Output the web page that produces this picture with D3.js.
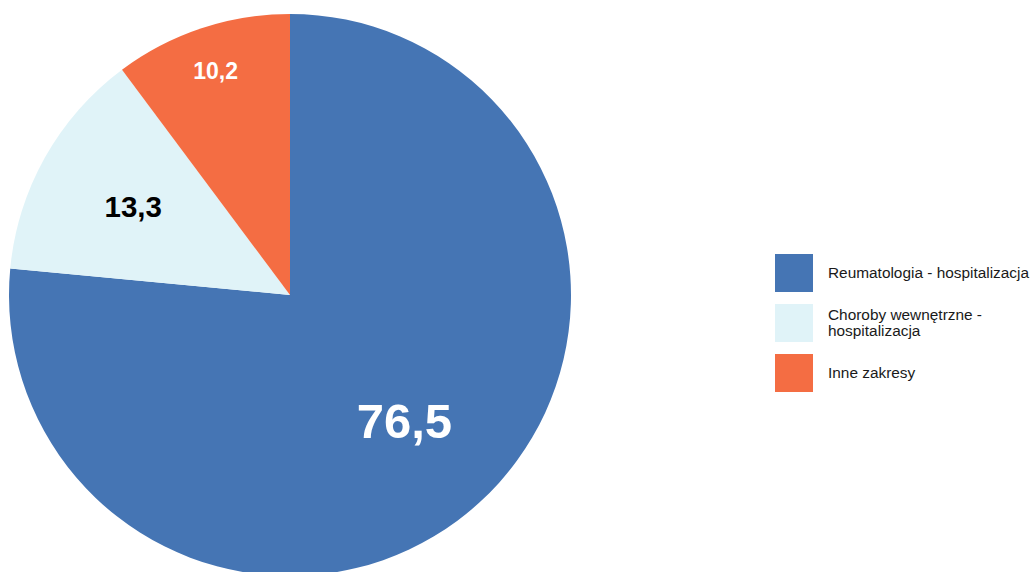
<!DOCTYPE html>
<html><head><meta charset="utf-8">
<script src="https://cdn.jsdelivr.net/npm/d3@7"></script>
<style>body{margin:0;background:#fff}svg{display:block}</style>
</head><body><svg id="c" width="1033" height="572"></svg>
<script>
const categories = ["Reumatologia - hospitalizacja", "Choroby wewnętrzne - hospitalizacja", "Inne zakresy"];
const legendLines = [["Reumatologia - hospitalizacja"], ["Choroby wewnętrzne -", "hospitalizacja"], ["Inne zakresy"]];
const values = [76.5, 13.3, 10.2];
const labels = ["76,5", "13,3", "10,2"];
const colors = ["#4575b4", "#e0f3f8", "#f46d43"];
const labelColors = ["#ffffff", "#000000", "#ffffff"];
const labelSizes = [49, 29.5, 23];
const labelRadius = [0.605, 0.64, 0.84];

const svg = d3.select("#c");
const cx = 290, cy = 295, R = 281;
const pie = d3.pie().sort(null).value(d => d)(values);
const arc = d3.arc().innerRadius(0).outerRadius(R);
const g = svg.append("g").attr("transform", `translate(${cx},${cy})`);
g.selectAll("path").data(pie).join("path").attr("d", arc).attr("fill", (d, i) => colors[i]);
g.selectAll("text").data(pie).join("text")
  .attr("transform", (d, i) => {
    const a = (d.startAngle + d.endAngle) / 2, r = R * labelRadius[i];
    return `translate(${Math.sin(a) * r},${-Math.cos(a) * r})`;
  })
  .attr("text-anchor", "middle").attr("dominant-baseline", "central")
  .attr("font-family", "'Liberation Sans', Arial, sans-serif").attr("font-weight", "bold")
  .attr("font-size", (d, i) => labelSizes[i]).attr("fill", (d, i) => labelColors[i])
  .text((d, i) => labels[i]);

const lg = svg.append("g").attr("transform", "translate(775,254)");
const item = lg.selectAll("g").data(categories).join("g").attr("transform", (d, i) => `translate(0,${i * 50})`);
item.append("rect").attr("width", 38).attr("height", 38).attr("fill", (d, i) => colors[i]);
item.append("text").attr("x", 53).attr("font-family", "'Liberation Sans', Arial, sans-serif").attr("font-size", 15.4).attr("fill", "#1a1a1a")
  .each(function(d, i) {
    const t = d3.select(this), lines = legendLines[i];
    const y0 = 19 - (lines.length - 1) * 8;
    lines.forEach((l, j) => t.append("tspan").attr("x", 53).attr("y", y0 + j * 16).attr("dy", "0.35em").text(l));
  });
</script></body></html>
